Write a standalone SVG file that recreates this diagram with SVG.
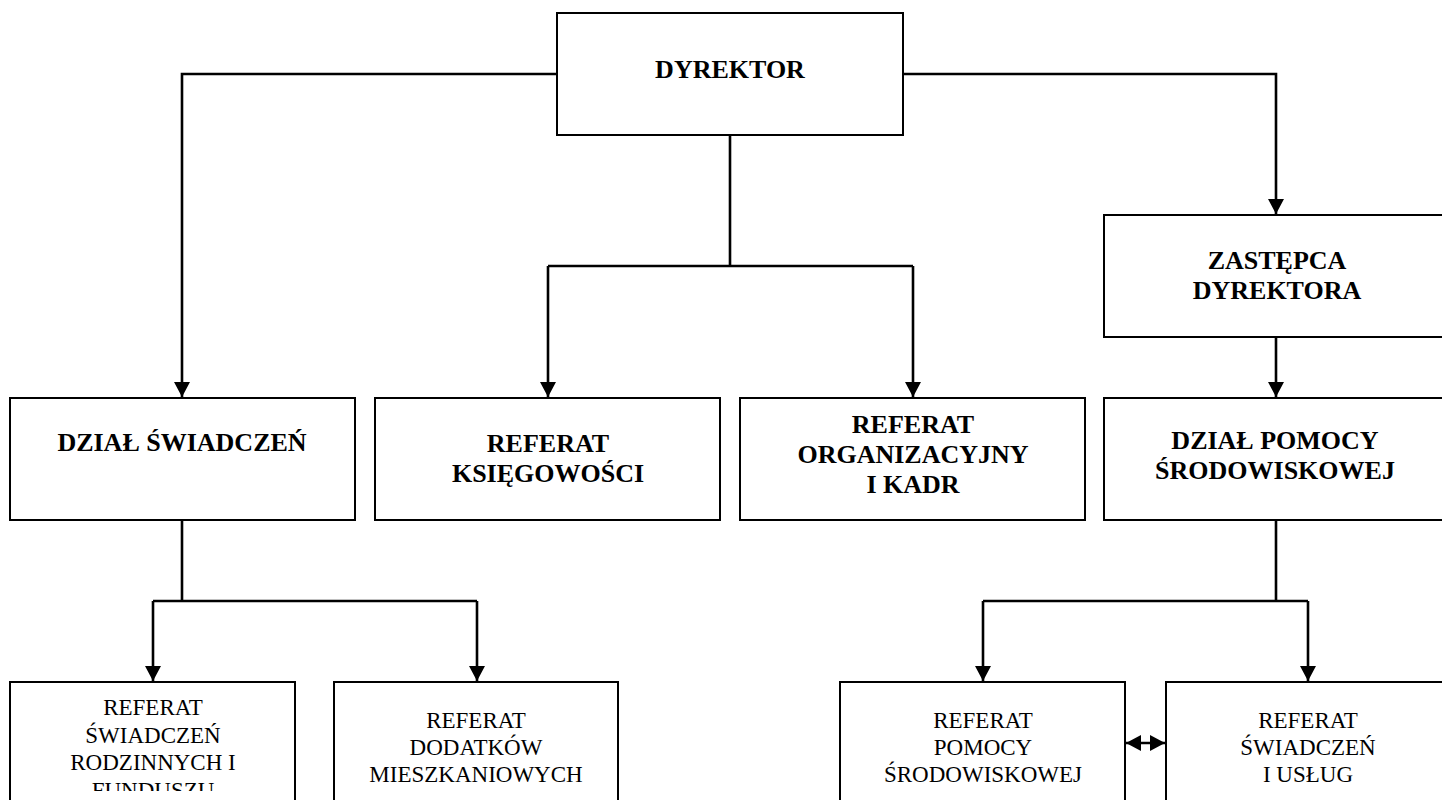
<svg xmlns="http://www.w3.org/2000/svg" width="1442" height="800" viewBox="0 0 1442 800">
<style>
.box{fill:#fff;stroke:#000;stroke-width:2}
.b{font-family:"Liberation Serif","Times New Roman",serif;font-weight:bold;font-size:26px;text-anchor:middle;fill:#000}
.r{font-family:"Liberation Serif","Times New Roman",serif;font-size:23px;text-anchor:middle;fill:#000}
.c{fill:none;stroke:#000;stroke-width:2.6}
</style>
<defs>
<marker id="ah" markerUnits="userSpaceOnUse" markerWidth="16" markerHeight="16" viewBox="0 0 15 16" refX="15" refY="8" orient="auto-start-reverse">
<path d="M0,0 L15,8 L0,16 Z" fill="#000"/>
</marker>
<clipPath id="cut"><rect x="0" y="0" width="1442" height="791"/></clipPath>
</defs>
<rect width="1442" height="800" fill="#fff"/>
<g id="connectors">
<path class="c" d="M557,74 H182 V397" marker-end="url(#ah)"/>
<path class="c" d="M903,74 H1276 V214" marker-end="url(#ah)"/>
<path class="c" d="M730,135 V266 M548,266 H913"/>
<path class="c" d="M548,266 V397" marker-end="url(#ah)"/>
<path class="c" d="M913,266 V397" marker-end="url(#ah)"/>
<path class="c" d="M1276,337 V397" marker-end="url(#ah)"/>
<path class="c" d="M182,520 V601 M153,601 H477"/>
<path class="c" d="M153,601 V681" marker-end="url(#ah)"/>
<path class="c" d="M477,601 V681" marker-end="url(#ah)"/>
<path class="c" d="M1276,520 V601 M983,601 H1308"/>
<path class="c" d="M983,601 V681" marker-end="url(#ah)"/>
<path class="c" d="M1308,601 V681" marker-end="url(#ah)"/>
<path class="c" d="M1126,743 H1165" marker-start="url(#ah)" marker-end="url(#ah)"/>
</g>
<g id="dyrektor">
<rect class="box" x="557" y="13" width="346" height="122"/>
<text class="b" x="730" y="78">DYREKTOR</text>
</g>
<g id="zastepca">
<rect class="box" x="1104" y="215" width="344" height="122"/>
<text class="b" x="1277" y="269">ZASTĘPCA</text>
<text class="b" x="1277" y="299">DYREKTORA</text>
</g>
<g id="dzial-swiadczen">
<rect class="box" x="10" y="398" width="345" height="122"/>
<text class="b" x="182" y="451">DZIAŁ ŚWIADCZEŃ</text>
</g>
<g id="ref-ksiegowosci">
<rect class="box" x="375" y="398" width="345" height="122"/>
<text class="b" x="548" y="452">REFERAT</text>
<text class="b" x="548" y="482">KSIĘGOWOŚCI</text>
</g>
<g id="ref-organizacyjny">
<rect class="box" x="740" y="398" width="345" height="122"/>
<text class="b" x="913" y="433">REFERAT</text>
<text class="b" x="913" y="463">ORGANIZACYJNY</text>
<text class="b" x="913" y="493">I KADR</text>
</g>
<g id="dzial-pomocy">
<rect class="box" x="1104" y="398" width="344" height="122"/>
<text class="b" x="1275" y="449">DZIAŁ POMOCY</text>
<text class="b" x="1275" y="479">ŚRODOWISKOWEJ</text>
</g>
<g id="ref-swiadczen-rodzinnych">
<rect class="box" x="10" y="682" width="285" height="140"/>
<text class="r" x="153" y="715">REFERAT</text>
<text class="r" x="153" y="743">ŚWIADCZEŃ</text>
<text class="r" x="153" y="770">RODZINNYCH I</text>
<text class="r" x="153" y="798" clip-path="url(#cut)">FUNDUSZU</text>
</g>
<g id="ref-dodatkow">
<rect class="box" x="334" y="682" width="284" height="140"/>
<text class="r" x="476" y="728">REFERAT</text>
<text class="r" x="476" y="755">DODATKÓW</text>
<text class="r" x="476" y="782">MIESZKANIOWYCH</text>
</g>
<g id="ref-pomocy">
<rect class="box" x="840" y="682" width="285" height="140"/>
<text class="r" x="983" y="728">REFERAT</text>
<text class="r" x="983" y="755">POMOCY</text>
<text class="r" x="983" y="782">ŚRODOWISKOWEJ</text>
</g>
<g id="ref-swiadczen-uslug">
<rect class="box" x="1166" y="682" width="285" height="140"/>
<text class="r" x="1308" y="728">REFERAT</text>
<text class="r" x="1308" y="755">ŚWIADCZEŃ</text>
<text class="r" x="1308" y="782">I USŁUG</text>
</g>
</svg>
